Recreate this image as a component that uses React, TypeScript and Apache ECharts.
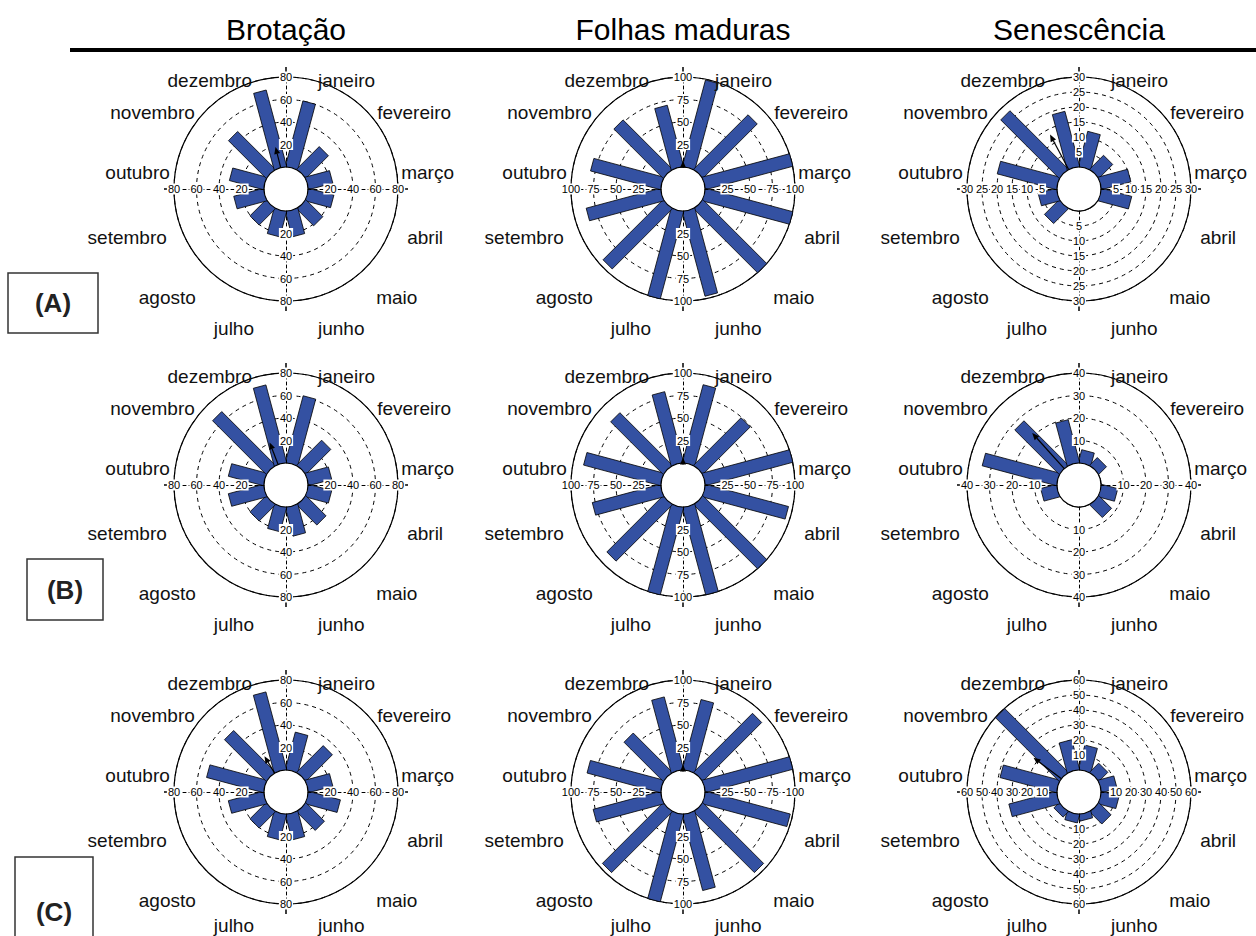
import React, { useEffect, useRef } from 'react';
import * as echarts from 'echarts';

// ---------- texts ----------
const months = ['janeiro', 'fevereiro', 'março', 'abril', 'maio', 'junho', 'julho', 'agosto', 'setembro', 'outubro', 'novembro', 'dezembro'];
const columnTitles = ['Brotação', 'Folhas maduras', 'Senescência'];
const rowLabels = ['(A)', '(B)', '(C)'];

// ---------- data (percent per month) ----------
const brotacaoA = [60, 28, 22, 23, 21, 23, 23, 20, 27, 31, 47, 70];
const brotacaoB = [61, 31, 21, 21, 25, 26, 22, 20, 32, 32, 67, 71];
const brotacaoC = [34, 33, 22, 29, 23, 23, 23, 20, 32, 52, 52, 71];

const folhasA = [99, 85, 100, 100, 100, 97, 100, 94, 85, 80, 77, 70];
const folhasB = [89, 74, 100, 95, 100, 100, 100, 88, 78, 88, 82, 81];
const folhasC = [80, 92, 100, 97, 95, 87, 100, 95, 77, 84, 61, 83];

const senescenciaA = [12, 6.4, 10, 10.3, 0, 0, 0, 6.8, 6.2, 20.3, 27.4, 18.9];
const senescenciaB = [5.7, 4.6, 0, 7.3, 7.8, 0, 0, 0, 7.1, 34, 27.7, 19.5];
const senescenciaC = [16.6, 8.2, 10.5, 11.9, 11.2, 4.3, 5.6, 4.7, 32.6, 38.7, 59.6, 20.3];

// mean vector (angle in degrees clockwise from north, length in axis units)
const meanAngleA = [346, 0, 332];
const meanAngleB = [339, 0, 318];
const meanAngleC = [329, 0, 307];
const meanLengthA = [19, 7, 13.2];
const meanLengthB = [21, 6, 21.3];
const meanLengthC = [17.6, 6, 23.3];

// radial axis scales
const axisMaxA = [80, 100, 30];
const axisMaxB = [80, 100, 40];
const axisMaxC = [80, 100, 60];
const axisStepA = [20, 25, 5];
const axisStepB = [20, 25, 10];
const axisStepC = [20, 25, 10];

// ---------- layout ----------
const FONT = '"Liberation Sans", Arial, Helvetica, sans-serif';
const COL_X = [286, 683, 1079];
const ROW_Y = [189, 485, 792];
const R_OUT = 112;
const R_IN = 22;
const BAR_HALF = 6.5;
const BAR_COLOR = '#3451a2';
const LABEL_MAX_Y = 925;
// offsets of month labels from the outer circle point at the month's angle
const LABEL_OFFSETS = [
  [3, 0], [12, 3], [7, 12], [13, 20], [11, 29], [3, 31],
  [-3, 31], [-11, 29], [-11, 20], [-8, 12], [-12, 3], [-5, 0],
];
const BOXES = [
  { x: 8, y: 273, w: 90, h: 60, ty: 303 },
  { x: 27, y: 559, w: 76, h: 61, ty: 590 },
  { x: 15, y: 857, w: 78, h: 95, ty: 912 },
];

function buildOption() {
  const rows = [
    { vals: [brotacaoA, folhasA, senescenciaA], ang: meanAngleA, len: meanLengthA, max: axisMaxA, step: axisStepA },
    { vals: [brotacaoB, folhasB, senescenciaB], ang: meanAngleB, len: meanLengthB, max: axisMaxB, step: axisStepB },
    { vals: [brotacaoC, folhasC, senescenciaC], ang: meanAngleC, len: meanLengthC, max: axisMaxC, step: axisStepC },
  ];
  const polar: any[] = [];
  const angleAxis: any[] = [];
  const radiusAxis: any[] = [];
  const series: any[] = [];

  rows.forEach((row, r) => {
    row.vals.forEach((values, c) => {
      const center = [COL_X[c], ROW_Y[r]];
      const max = row.max[c];
      const step = row.step[c];
      const base = polar.length;
      polar.push({ center, radius: [R_IN, R_OUT] });
      angleAxis.push({
        polarIndex: base, type: 'value', min: 0, max: 12, interval: 3, startAngle: 90, clockwise: true, z: 0,
        axisLine: { show: true, lineStyle: { color: '#000', width: 1.2 } },
        axisTick: { show: true, inside: false, length: 10, lineStyle: { color: '#000', width: 1.5 } },
        axisLabel: { show: false }, splitLine: { show: false },
      });
      radiusAxis.push({
        polarIndex: base, type: 'value', min: 0, max, interval: step, z: 0,
        axisLine: { show: false }, axisTick: { show: false }, axisLabel: { show: false },
        splitLine: { show: true, lineStyle: { color: '#000', width: 1, type: [4, 4] } },
      });
      [90, 0, 270, 180].forEach((sa) => {
        const idx = polar.length;
        polar.push({ center, radius: [R_IN, R_OUT] });
        angleAxis.push({ polarIndex: idx, type: 'value', min: 0, max: 12, startAngle: sa, show: false });
        radiusAxis.push({
          polarIndex: idx, type: 'value', min: 0, max, interval: step, z: 6,
          axisLine: { show: true, lineStyle: { color: '#000', width: 1, type: [3, 3] } },
          axisTick: { show: false },
          splitLine: { show: false },
          axisLabel: {
            show: true, margin: 0, align: 'center', verticalAlign: 'middle', fontSize: 11, fontFamily: FONT,
            color: '#000', showMinLabel: false, backgroundColor: '#fff', padding: [0, 1],
          },
        });
      });

      // bars + month labels
      series.push({
        type: 'custom', coordinateSystem: 'polar', polarIndex: base, z: 2, silent: true,
        data: values.map((v, i) => [v, i + 0.5, i]),
        renderItem: (params: any, api: any) => {
          const cs = params.coordSys;
          const v = api.value(0);
          const a = api.value(1);
          const i = api.value(2);
          const out = api.coord([max, a]);
          const end = api.coord([v, a]);
          const dx = out[0] - cs.cx;
          const dy = out[1] - cs.cy;
          const L = Math.hypot(dx, dy);
          const nx = -dy / L;
          const ny = dx / L;
          const w = BAR_HALF;
          const children: any[] = [];
          if (v > 0) {
            children.push({
              type: 'polygon',
              shape: {
                points: [
                  [cs.cx + nx * w, cs.cy + ny * w],
                  [end[0] + nx * w, end[1] + ny * w],
                  [end[0] - nx * w, end[1] - ny * w],
                  [cs.cx - nx * w, cs.cy - ny * w],
                ],
              },
              style: { fill: BAR_COLOR, stroke: '#000', lineWidth: 0.8 },
            });
          }
          const off = LABEL_OFFSETS[i];
          children.push({
            type: 'text', x: out[0] + off[0], y: Math.min(out[1] + off[1], LABEL_MAX_Y),
            style: {
              text: months[i], fontSize: 19, fontFamily: FONT, fill: '#111',
              align: i < 6 ? 'left' : 'right', verticalAlign: 'middle',
            },
          });
          return { type: 'group', children };
        },
      });

      // hole + mean vector arrow
      series.push({
        type: 'custom', coordinateSystem: 'polar', polarIndex: base, z: 3, silent: true,
        data: [[row.len[c], row.ang[c] / 30]],
        renderItem: (params: any, api: any) => {
          const cs = params.coordSys;
          const v = api.value(0);
          const a = api.value(1);
          const s = api.coord([0, a]);
          const e = api.coord([v, a]);
          const out = api.coord([max, a]);
          const dx = out[0] - cs.cx;
          const dy = out[1] - cs.cy;
          const L = Math.hypot(dx, dy);
          const ux = dx / L;
          const uy = dy / L;
          const nx = -uy;
          const ny = ux;
          const head = 7;
          const hw = 3;
          const b = [e[0] - ux * head, e[1] - uy * head];
          return {
            type: 'group',
            children: [
              { type: 'circle', shape: { cx: cs.cx, cy: cs.cy, r: cs.r0 }, style: { fill: '#fff', stroke: '#000', lineWidth: 1.2 } },
              { type: 'line', shape: { x1: s[0], y1: s[1], x2: b[0], y2: b[1] }, style: { stroke: '#000', lineWidth: 1.2 } },
              {
                type: 'polygon',
                shape: { points: [[e[0], e[1]], [b[0] + nx * hw, b[1] + ny * hw], [b[0] - nx * hw, b[1] - ny * hw]] },
                style: { fill: '#000' },
              },
            ],
          };
        },
      });
    });
  });

  const graphic: any[] = [];
  columnTitles.forEach((t, c) => {
    graphic.push({
      type: 'text', x: COL_X[c], y: 29,
      style: { text: t, fontSize: 30, fontFamily: FONT, fill: '#000', align: 'center', verticalAlign: 'middle' },
    });
  });
  graphic.push({ type: 'rect', shape: { x: 70, y: 48, width: 1186, height: 4 }, style: { fill: '#000' } });
  rowLabels.forEach((t, r) => {
    const b = BOXES[r];
    graphic.push({
      type: 'rect', shape: { x: b.x, y: b.y, width: b.w, height: b.h },
      style: { fill: '#fff', stroke: '#333', lineWidth: 1.5 },
    });
    graphic.push({
      type: 'text', x: b.x + b.w / 2, y: b.ty,
      style: { text: t, fontSize: 26, fontWeight: 'bold', fontFamily: FONT, fill: '#222', align: 'center', verticalAlign: 'middle' },
    });
  });

  return {
    animation: false,
    backgroundColor: '#fff',
    polar,
    angleAxis,
    radiusAxis,
    series,
    graphic,
  };
}

export default function App() {
  const ref = useRef<HTMLDivElement>(null);
  useEffect(() => {
    const chart = echarts.init(ref.current as HTMLDivElement, null, { renderer: 'svg' });
    chart.setOption(buildOption() as any);
    return () => chart.dispose();
  }, []);
  return (
    <div
      ref={ref}
      style={{ position: 'fixed', left: 0, top: 0, width: 1256, height: 936, background: '#fff' }}
    />
  );
}
